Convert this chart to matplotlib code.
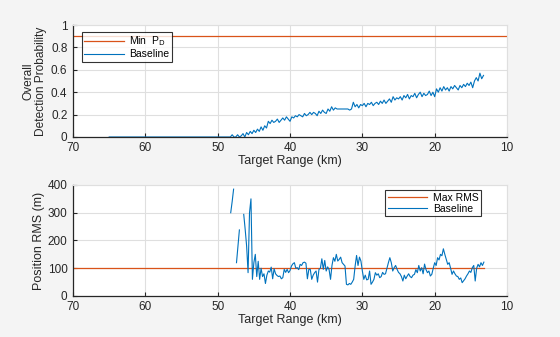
import numpy as np
import matplotlib
matplotlib.use('Agg')
import matplotlib.pyplot as plt

plt.rcParams['font.family'] = ['Liberation Sans', 'DejaVu Sans']

# ---- data ----
range_lim = [70, 10]
min_pd = 0.9
max_rms = 100.0

# detection probability, 0.25 km steps starting at 65 km
pd_start, pd_step = 65.0, 0.25
pd_zeros = [0.0] * 67  # 65 .. 48.5 km
pd_vals = [0.0,
           0.02, 0.0, 0.0, 0.02,
           0.0, 0.01, 0.03, 0.0,
           0.04, 0.02, 0.05, 0.03,
           0.06, 0.04, 0.07, 0.05,
           0.09, 0.06, 0.10, 0.08,
           0.14, 0.12, 0.15, 0.13,
           0.14, 0.16, 0.13, 0.15,
           0.17, 0.15, 0.18, 0.16,
           0.14, 0.18, 0.17, 0.19,
           0.18, 0.20, 0.19, 0.18,
           0.21, 0.19, 0.20, 0.22,
           0.20, 0.22, 0.21, 0.19,
           0.23, 0.21, 0.24, 0.22,
           0.21, 0.25, 0.23, 0.27,
           0.24, 0.26, 0.25, 0.25,
           0.25, 0.25, 0.25, 0.25,
           0.25, 0.24, 0.25, 0.31,
           0.27, 0.29, 0.26, 0.29,
           0.28, 0.30, 0.27, 0.30,
           0.29, 0.31, 0.28, 0.30,
           0.31, 0.29, 0.32, 0.30,
           0.33, 0.30, 0.32, 0.34,
           0.31, 0.36, 0.33, 0.35,
           0.34, 0.36, 0.33, 0.37,
           0.35, 0.38, 0.34, 0.37,
           0.36, 0.39, 0.35, 0.38,
           0.40, 0.36, 0.39, 0.37,
           0.38, 0.41, 0.37, 0.40,
           0.36, 0.43, 0.40, 0.44,
           0.41, 0.45, 0.42, 0.44,
           0.41, 0.45, 0.43, 0.46,
           0.44, 0.42, 0.46, 0.44,
           0.47, 0.45, 0.48, 0.46,
           0.49, 0.44, 0.50, 0.53,
           0.50, 0.57, 0.52, 0.55]
pd = np.array(pd_zeros + pd_vals)
pd_range = pd_start - pd_step * np.arange(len(pd))

# position RMS, 0.2 km steps starting at 48.2 km (nan = no track)
nan = np.nan
rms_start, rms_step = 48.2, 0.2
rms = np.array([
    300, 340, 385, nan, 120, 180, 238, nan, nan, 294, 240, 180, 84, 300, 350, 60,
    120, 150, 70, 125, 60, 100, 70, 80, 45, 75,
    90, 86, 104, 62, 98, 80, 74, 70, 72, 62,
    66, 96, 85, 96, 84, 92, 108, 116, 120, 100,
    102, 95, 114, 110, 120, 122, 118, 62, 96, 96,
    60, 75, 84, 90, 50, 96, 100, 134, 96, 128,
    90, 105, 95, 60, 110, 138, 125, 150, 126, 132,
    140, 120, 114, 108, 42, 40, 45, 42, 50, 60,
    108, 146, 110, 140, 126, 90, 60, 75, 58, 60,
    90, 42, 50, 60, 84, 75, 80, 66, 70, 85,
    78, 80, 100, 120, 138, 120, 90, 102, 110, 96,
    85, 80, 70, 54, 75, 62, 72, 80, 70, 66,
    75, 78, 95, 84, 110, 90, 102, 80, 115, 95,
    84, 90, 72, 78, 100, 120, 110, 138, 130, 150,
    145, 170, 150, 132, 114, 120, 100, 78, 90, 80,
    72, 70, 60, 65, 48, 55, 62, 72, 80, 90,
    85, 102, 110, 54, 100, 114, 105, 120, 110, 122], dtype=float)
rms_range = rms_start - rms_step * np.arange(len(rms))

# ---- style ----
blue = '#0072BD'
orange = '#D95319'
txt = '#262626'
gridc = '#DFDFDF'

fig = plt.figure(figsize=(5.6, 3.37), dpi=100)
fig.patch.set_facecolor('#F4F4F4')
ax1 = fig.add_axes([0.1304, 0.5935, 0.775, 0.3323])
ax2 = fig.add_axes([0.1304, 0.1217, 0.775, 0.3294])

def style(ax):
    ax.set_xlim(range_lim)
    ax.grid(True, color=gridc, lw=0.8)
    ax.set_axisbelow(True)
    for s in ['top', 'right']:
        ax.spines[s].set_color(gridc)
    for s in ['bottom', 'left']:
        ax.spines[s].set_color(txt)
        ax.spines[s].set_linewidth(0.9)
    ax.tick_params(direction='in', length=3, width=0.8, colors=txt,
                   labelsize=8.5)
    ax.tick_params(axis='x', pad=3.5)
    ax.tick_params(axis='y', pad=4)
    ax.set_xticks([70, 60, 50, 40, 30, 20, 10])
    ax.set_xlabel('Target Range (km)', fontsize=9, color=txt, labelpad=1)

# top: detection probability
ax1.axhline(min_pd, color=orange, lw=0.9, label=r'Min  P$_{\mathrm{D}}$')
ax1.plot(pd_range, pd, color=blue, lw=0.8, label='Baseline')
style(ax1)
ax1.set_ylim(0, 1)
ax1.set_yticks([0, 0.2, 0.4, 0.6, 0.8, 1])
ax1.set_yticklabels(['0', '0.2', '0.4', '0.6', '0.8', '1'])
ax1.set_ylabel('Overall\nDetection Probability', fontsize=8.6, color=txt,
               labelpad=2.5, linespacing=1.1)
leg1 = ax1.legend(loc='upper left', bbox_to_anchor=(0.02, 0.94), fontsize=7.5,
                  frameon=True, fancybox=False, handlelength=3.8,
                  borderpad=0.25, labelspacing=0.1, handletextpad=0.5,
                  borderaxespad=0)
leg1.get_frame().set_edgecolor('black')
leg1.get_frame().set_linewidth(0.8)

# bottom: position RMS
ax2.plot([range_lim[0], rms_range[-1]], [max_rms, max_rms], color=orange,
         lw=0.9, label='Max RMS')
ax2.plot(rms_range, rms, color=blue, lw=0.8, label='Baseline')
style(ax2)
ax2.set_ylim(0, 400)
ax2.set_yticks([0, 100, 200, 300, 400])
ax2.set_ylabel('Position RMS (m)', fontsize=9, color=txt, labelpad=2)
leg2 = ax2.legend(loc='upper right', bbox_to_anchor=(0.94, 0.955), fontsize=7.5,
                  frameon=True, fancybox=False, handlelength=3.8,
                  borderpad=0.25, labelspacing=0.1, handletextpad=0.5,
                  borderaxespad=0)
leg2.get_frame().set_edgecolor('black')
leg2.get_frame().set_linewidth(0.8)

plt.savefig('out.png', dpi=100, facecolor=fig.get_facecolor())
plt.close('all')
